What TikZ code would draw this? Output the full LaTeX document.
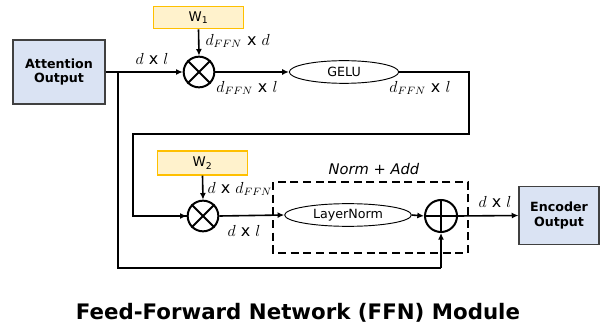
\documentclass[tikz,border=0pt]{standalone}
\usepackage{fontspec}
\setmainfont{DejaVu Sans}
\usetikzlibrary{arrows.meta}
\definecolor{boxblue}{HTML}{DAE3F3}
\definecolor{boxgray}{HTML}{404040}
\definecolor{wfill}{HTML}{FFF2CC}
\definecolor{wline}{HTML}{FFC000}
\tikzset{
  io/.style={draw=boxgray,fill=boxblue,line width=0.9pt,align=center,font=\fontsize{9.5}{11}\selectfont\bfseries,inner sep=0pt},
  wbox/.style={draw=wline,fill=wfill,line width=0.9pt,minimum width=67pt,minimum height=17pt,inner sep=0pt,font=\fontsize{10}{11}\selectfont},
  op/.style={circle,draw,line width=1.5pt,minimum size=23pt,inner sep=0pt},
  act/.style={ellipse,draw,line width=0.7pt,inner sep=0pt,minimum height=17pt,font=\fontsize{9.5}{11}\selectfont},
  wire/.style={line width=1.2pt},
  arr/.style={wire,-{Latex[length=5pt,width=4.5pt]}},
  dim/.style={font=\fontsize{12}{14}\selectfont,inner sep=1pt}
}
\usetikzlibrary{shapes.geometric}
\begin{document}
\begin{tikzpicture}[x=0.75pt,y=-0.75pt]
  \useasboundingbox (0,0) rectangle (605,331);
  % nodes
  \node[io,minimum width=69pt,minimum height=48pt] (attn) at (59,72) {Attention\\Output};
  \node[wbox] (w1) at (198.5,17.5) {W\textsubscript{1}};
  \node[op] (mul1) at (199,72) {};
  \node[act,minimum width=82pt] (gelu) at (344,72) {GELU};
  \node[wbox,minimum height=18pt] (w2) at (202.5,163) {W\textsubscript{2}};
  \node[op] (mul2) at (203,216) {};
  \node[act,minimum width=95pt] (lnorm) at (348,215) {LayerNorm};
  \node[op,minimum size=24pt] (add) at (441,216) {};
  \node[io,minimum width=60pt,minimum height=43pt] (enc) at (559,215.5) {Encoder\\Output};
  % operator symbols
  \draw[line width=1.5pt] (mul1.north west) -- (mul1.south east) (mul1.north east) -- (mul1.south west);
  \draw[line width=1.5pt] (mul2.north west) -- (mul2.south east) (mul2.north east) -- (mul2.south west);
  \draw[line width=1.5pt] (add.north) -- (add.south) (add.west) -- (add.east);
  % Norm + Add block
  \draw[line width=1.4pt,dash pattern=on 6pt off 3.5pt] (273,182) rectangle (468,253);
  \node[font=\fontsize{11}{13}\selectfont\itshape] (normadd) at (374,169) {Norm + Add};
  % wiring
  \coordinate (split) at (118,72);
  \draw[arr] (attn.east) -- (mul1.west);
  \draw[arr] (w1.south) -- (mul1.north);
  \draw[arr] (mul1.east) -- (gelu.west);
  \draw[wire] (gelu.east) -- (469,72) -- (469,134) -- (133,134) -- (133,216) -- (mul2.west);
  \draw[arr] (133,216) -- (mul2.west);
  \draw[arr] (w2.south) -- (mul2.north);
  \draw[arr] (mul2.east) -- (lnorm.west);
  \draw[arr] (lnorm.east) -- (add.west);
  \draw[arr] (add.east) -- (enc.west);
  \draw[wire] (split) -- (118,268) -- (441,268);
  \draw[arr] (441,268) -- (add.south);
  % dimensions
  \node[dim] (dimA) at (152,59) {$d$ x $l$};
  \node[dim,anchor=west] (dimB) at (204,41) {$d_{FFN}$ x $d$};
  \node[dim] (dimC) at (247,88) {$d_{FFN}$ x $l$};
  \node[dim] (dimD) at (420,88) {$d_{FFN}$ x $l$};
  \node[dim,anchor=west] (dimE) at (206,189) {$d$ x $d_{FFN}$};
  \node[dim] (dimF) at (244,231) {$d$ x $l$};
  \node[dim] (dimG) at (495,202) {$d$ x $l$};
  % title
  \node[font=\fontsize{16}{19}\selectfont\bfseries] (title) at (298,313) {Feed-Forward Network (FFN) Module};
\end{tikzpicture}
\end{document}
